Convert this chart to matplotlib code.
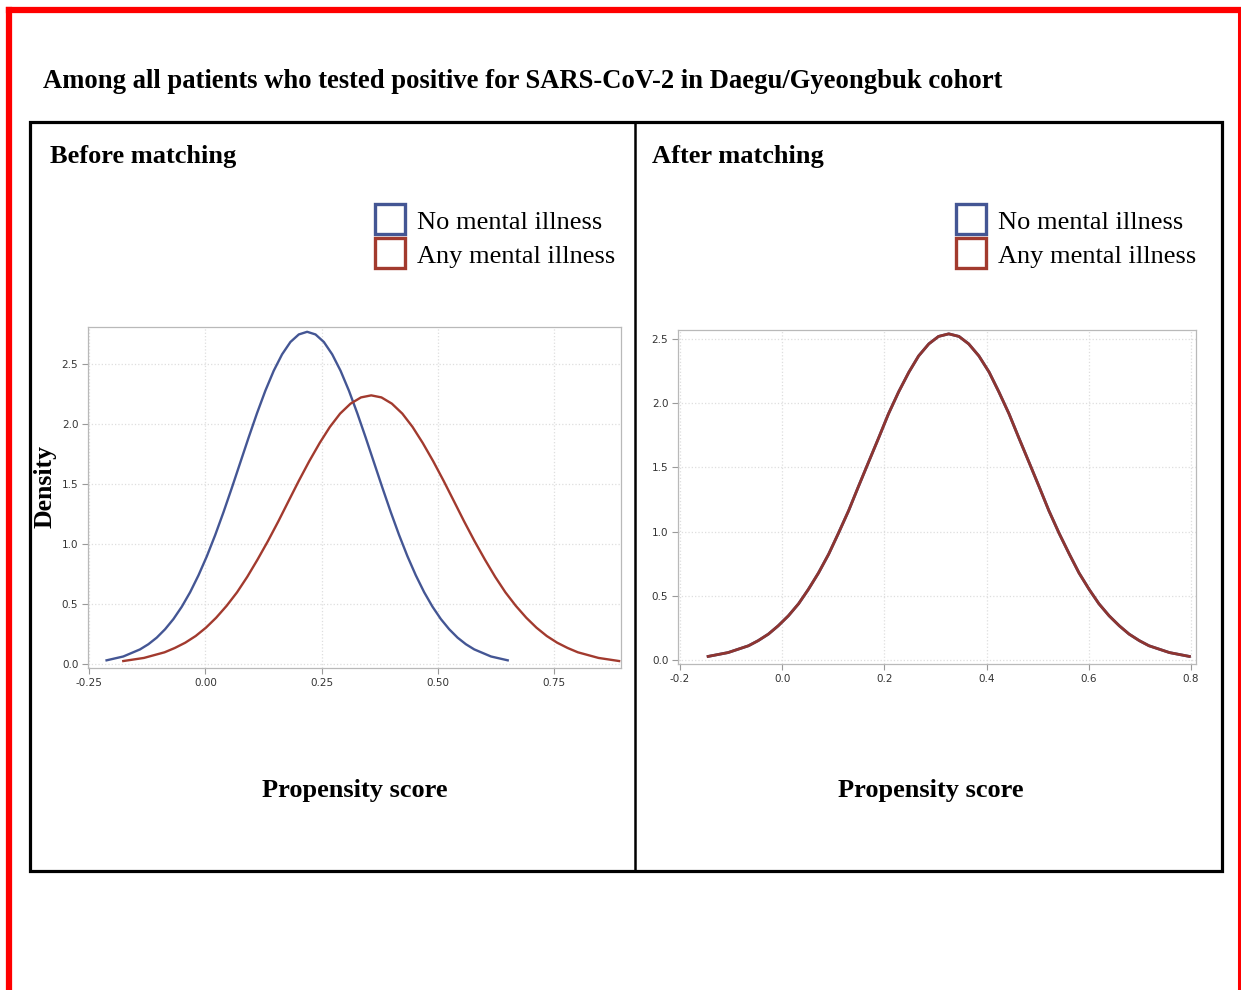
"""
Propensity score density, before / after matching
"""
import numpy as np
import matplotlib
matplotlib.use("Agg")
import matplotlib.pyplot as plt
from matplotlib.patches import Rectangle
from matplotlib.lines import Line2D

plt.rcParams['axes.unicode_minus'] = False

# series
groups = ["No mental illness", "Any mental illness"]
colors = ["#445694", "#A23A2E"]

# before matching
before_no_x = [-0.213, -0.177, -0.141, -0.123, -0.105, -0.087, -0.069, -0.051, -0.033, -0.015,
               0.003, 0.021, 0.039, 0.057, 0.075, 0.093, 0.111, 0.129, 0.147, 0.165, 0.183, 0.201,
               0.219,
               0.237, 0.255, 0.273, 0.291, 0.309, 0.327, 0.345, 0.363, 0.381, 0.399, 0.417, 0.435,
               0.453, 0.471, 0.489, 0.507, 0.525, 0.543, 0.561, 0.579, 0.615, 0.651]
before_no_y = [0.031, 0.063, 0.122, 0.165, 0.220, 0.290, 0.375, 0.478, 0.599, 0.740,
               0.899, 1.076, 1.268, 1.471, 1.680, 1.889, 2.091, 2.279, 2.445, 2.582, 2.685, 2.748,
               2.770,
               2.748, 2.685, 2.582, 2.445, 2.279, 2.091, 1.889, 1.680, 1.471, 1.268, 1.076, 0.899,
               0.740, 0.599, 0.478, 0.375, 0.290, 0.220, 0.165, 0.122, 0.063, 0.031]
before_any_x = [-0.177, -0.1325, -0.088, -0.066, -0.0435, -0.021, 0.001, 0.023, 0.0455, 0.068,
                0.090, 0.112, 0.1345, 0.157, 0.179, 0.201, 0.2235, 0.246, 0.268, 0.290, 0.3125, 0.335,
                0.357,
                0.379, 0.4015, 0.424, 0.446, 0.468, 0.4905, 0.513, 0.535, 0.557, 0.5795, 0.602, 0.624,
                0.646, 0.6685, 0.691, 0.713, 0.735, 0.7575, 0.780, 0.802, 0.8465, 0.891]
before_any_y = [0.025, 0.051, 0.098, 0.134, 0.178, 0.234, 0.303, 0.386, 0.485, 0.598,
                0.727, 0.870, 1.025, 1.190, 1.359, 1.527, 1.691, 1.843, 1.977, 2.088, 2.171, 2.223,
                2.240,
                2.223, 2.171, 2.088, 1.977, 1.843, 1.691, 1.527, 1.359, 1.190, 1.025, 0.870, 0.727,
                0.598, 0.485, 0.386, 0.303, 0.234, 0.178, 0.134, 0.098, 0.051, 0.025]

# after matching (both groups lie on top of each other)
after_no_x = [-0.145, -0.106, -0.066, -0.047, -0.027, -0.008, 0.012, 0.032, 0.051, 0.071,
              0.091, 0.110, 0.130, 0.149, 0.169, 0.189, 0.208, 0.228, 0.248, 0.267, 0.287, 0.306,
              0.326,
              0.346, 0.365, 0.385, 0.405, 0.424, 0.444, 0.463, 0.483, 0.503, 0.522, 0.542, 0.562,
              0.581, 0.601, 0.620, 0.640, 0.660, 0.679, 0.699, 0.718, 0.758, 0.797]
after_no_y = [0.028, 0.058, 0.111, 0.151, 0.202, 0.266, 0.344, 0.438, 0.549, 0.678,
              0.825, 0.987, 1.163, 1.349, 1.541, 1.732, 1.917, 2.089, 2.242, 2.368, 2.462, 2.520,
              2.540,
              2.520, 2.462, 2.368, 2.242, 2.089, 1.917, 1.732, 1.541, 1.349, 1.163, 0.987, 0.825,
              0.678, 0.549, 0.438, 0.344, 0.266, 0.202, 0.151, 0.111, 0.058, 0.028]
after_any_x = list(after_no_x)
after_any_y = list(after_no_y)

before_xticks = [-0.25, 0.0, 0.25, 0.5, 0.75]
before_xlabels = ["-0.25", "0.00", "0.25", "0.50", "0.75"]
after_xticks = [-0.2, 0.0, 0.2, 0.4, 0.6, 0.8]
yticks = [0.0, 0.5, 1.0, 1.5, 2.0, 2.5]

W, H = 1241, 990
SERIF = "Liberation Serif"


def fx(px):
    return px / W


def fy(py):
    return 1 - py / H


def style_axes(ax):
    for s in ax.spines.values():
        s.set_color("#b9b9b9")
        s.set_linewidth(0.9)
    ax.tick_params(direction="out", length=4, width=0.8, color="#9a9a9a",
                   labelsize=7.5, labelcolor="#333333", pad=3)
    ax.grid(True, color="#dedede", linestyle=":", linewidth=0.9)
    ax.set_axisbelow(True)
    ax.set_yticks(yticks)
    ax.set_yticklabels(["%.1f" % v for v in yticks])


fig = plt.figure(figsize=(W / 100, H / 100), dpi=100)

# left panel
ax1 = fig.add_axes([fx(88), fy(668), fx(621 - 88), (668 - 327) / H])
ax1.plot(before_no_x, before_no_y, color=colors[0], lw=1.7, solid_joinstyle="round")
ax1.plot(before_any_x, before_any_y, color=colors[1], lw=1.7, solid_joinstyle="round")
ax1.set_xlim(-0.253, 0.895)
ax1.set_ylim(-0.033, 2.81)
style_axes(ax1)
ax1.set_xticks(before_xticks)
ax1.set_xticklabels(before_xlabels)

# right panel
ax2 = fig.add_axes([fx(678), fy(664), fx(1196 - 678), (664 - 330) / H])
ax2.plot(after_no_x, after_no_y, color=colors[0], lw=2.0, solid_joinstyle="round")
ax2.plot(after_any_x, after_any_y, color="#8e3530", lw=2.0, solid_joinstyle="round")
ax2.set_xlim(-0.204, 0.81)
ax2.set_ylim(-0.031, 2.57)
style_axes(ax2)
ax2.set_xticks(after_xticks)
ax2.set_xticklabels(["%.1f" % v for v in after_xticks])

# titles and labels
fig.text(fx(43), fy(81), "Among all patients who tested positive for SARS-CoV-2 in Daegu/Gyeongbuk cohort",
         fontsize=19.2, fontweight="bold", family=SERIF, va="center", ha="left")
fig.text(fx(50), fy(157), "Before matching", fontsize=19, fontweight="bold",
         family=SERIF, va="center", ha="left")
fig.text(fx(652), fy(157), "After matching", fontsize=19, fontweight="bold",
         family=SERIF, va="center", ha="left")
fig.text(fx(45), fy(487), "Density", fontsize=18.5, fontweight="bold", family=SERIF,
         rotation=90, va="center", ha="center")
fig.text(fx(355), fy(790), "Propensity score", fontsize=19, fontweight="bold",
         family=SERIF, va="center", ha="center")
fig.text(fx(931), fy(790), "Propensity score", fontsize=19, fontweight="bold",
         family=SERIF, va="center", ha="center")

# legends (open squares)
for x0 in [375, 956]:
    for i, g in enumerate(groups):
        top = 204 + i * 34
        fig.patches.append(Rectangle((fx(x0), fy(top + 30)), fx(30), 30 / H,
                                     transform=fig.transFigure, fill=False,
                                     edgecolor=colors[i], lw=2.4))
        fig.text(fx(x0 + 42), fy(top + 19), g, fontsize=19, family=SERIF,
                 va="center", ha="left")

# black panel frame
fig.patches.append(Rectangle((fx(29.5), fy(870.5)), fx(1221.5 - 29.5), (870.5 - 122) / H,
                             transform=fig.transFigure, fill=False,
                             edgecolor="black", lw=2.3))
fig.lines.append(Line2D([fx(634.5), fx(634.5)], [fy(122), fy(870.5)],
                        transform=fig.transFigure, color="black", lw=1.8))

# red outer border
fig.lines.append(Line2D([fx(9), fx(1238.5)], [fy(10), fy(10)],
                        transform=fig.transFigure, color="red", lw=4.5))
fig.lines.append(Line2D([fx(9), fx(9)], [fy(10), fy(990)],
                        transform=fig.transFigure, color="red", lw=4.5))
fig.lines.append(Line2D([fx(1238.5), fx(1238.5)], [fy(10), fy(990)],
                        transform=fig.transFigure, color="red", lw=2.2))

fig.savefig("out.png", dpi=100)
